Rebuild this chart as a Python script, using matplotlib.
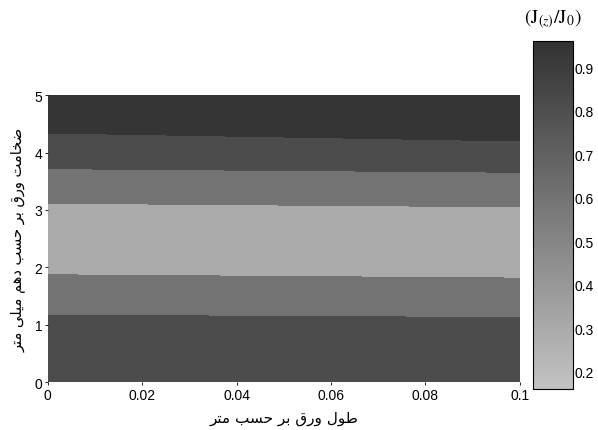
import matplotlib.pyplot as plt
import numpy as np
from matplotlib.colors import LinearSegmentedColormap, Normalize
from matplotlib.cm import ScalarMappable

plt.rcParams['mathtext.fontset'] = 'stix'

# طول ورق (m) و ضخامت ورق (دهم میلی‌متر)
length = [0.0, 0.1]
thickness = [0.0, 0.5, 1.0, 1.5, 2.0, 2.5, 3.0, 3.5, 4.0, 4.5, 5.0]

# J(z)/J0 در ابتدای و انتهای ورق
j_start = [0.86, 0.84, 0.80, 0.65, 0.38, 0.22, 0.38, 0.68, 0.84, 0.90, 0.95]
j_end = [0.87, 0.85, 0.80, 0.60, 0.36, 0.22, 0.42, 0.70, 0.86, 0.91, 0.95]

levels = [0.15, 0.45, 0.75, 0.88, 1.0]
cbar_ticks = [0.2, 0.3, 0.4, 0.5, 0.6, 0.7, 0.8, 0.9]

# متن فارسی به صورت اشکال نمایشی (ترتیب دیداری)
xlabel = "\uFEAE\uFE98\uFEE3 \uFE90\uFEB4\uFEA3 \uFEAE\uFE91 \uFED5\uFEAD\uFEED \uFEDD\uFEEE\uFEC3"
ylabel = ("\uFEAE\uFE98\uFEE3 \uFEF0\uFEE0\uFEF4\uFEE3 \uFEE2\uFEEB\uFEA9 "
          "\uFE90\uFEB4\uFEA3 \uFEAE\uFE91 \uFED5\uFEAD\uFEED \uFE96\uFEE3\uFE8E\uFEA8\uFEBF")

cmap = LinearSegmentedColormap.from_list("scan", ["#c3c3c3", "#323232"])
norm = Normalize(0.16, 0.96)

X, Y = np.meshgrid(length, thickness)
Z = np.column_stack([j_start, j_end])

fig = plt.figure(figsize=(5.98, 4.31), dpi=100)
ax = fig.add_axes([0.080, 0.111, 0.789, 0.666])
ax.contourf(X, Y, Z, levels=levels, cmap=cmap, norm=norm)
ax.set_xlim(0, 0.1)
ax.set_ylim(0, 5)
ax.set_xticks([0, 0.02, 0.04, 0.06, 0.08, 0.1])
ax.set_xticklabels(["0", "0.02", "0.04", "0.06", "0.08", "0.1"])
ax.set_yticks([0, 1, 2, 3, 4, 5])
for s in ax.spines.values():
    s.set_visible(False)
ax.tick_params(length=2, width=0.6, labelsize=10, pad=2)
for lab in ax.get_xticklabels() + ax.get_yticklabels():
    lab.set_family("Liberation Sans")
ax.set_xlabel(xlabel, fontsize=11, family="DejaVu Sans", labelpad=6)
ax.set_ylabel(ylabel, fontsize=10.5, family="DejaVu Sans", labelpad=6)

cax = fig.add_axes([0.891, 0.095, 0.067, 0.807])
cb = fig.colorbar(ScalarMappable(norm=norm, cmap=cmap), cax=cax, ticks=cbar_ticks)
cb.outline.set_linewidth(0.8)
cax.tick_params(length=0, labelsize=10, pad=1)
for lab in cax.get_yticklabels():
    lab.set_family("Liberation Sans")
fig.text(0.925, 0.955, r"$(\mathrm{J}_{(z)}/\mathrm{J}_0)$", fontsize=14, ha="center", va="center")

fig.savefig("out.png", dpi=100)
